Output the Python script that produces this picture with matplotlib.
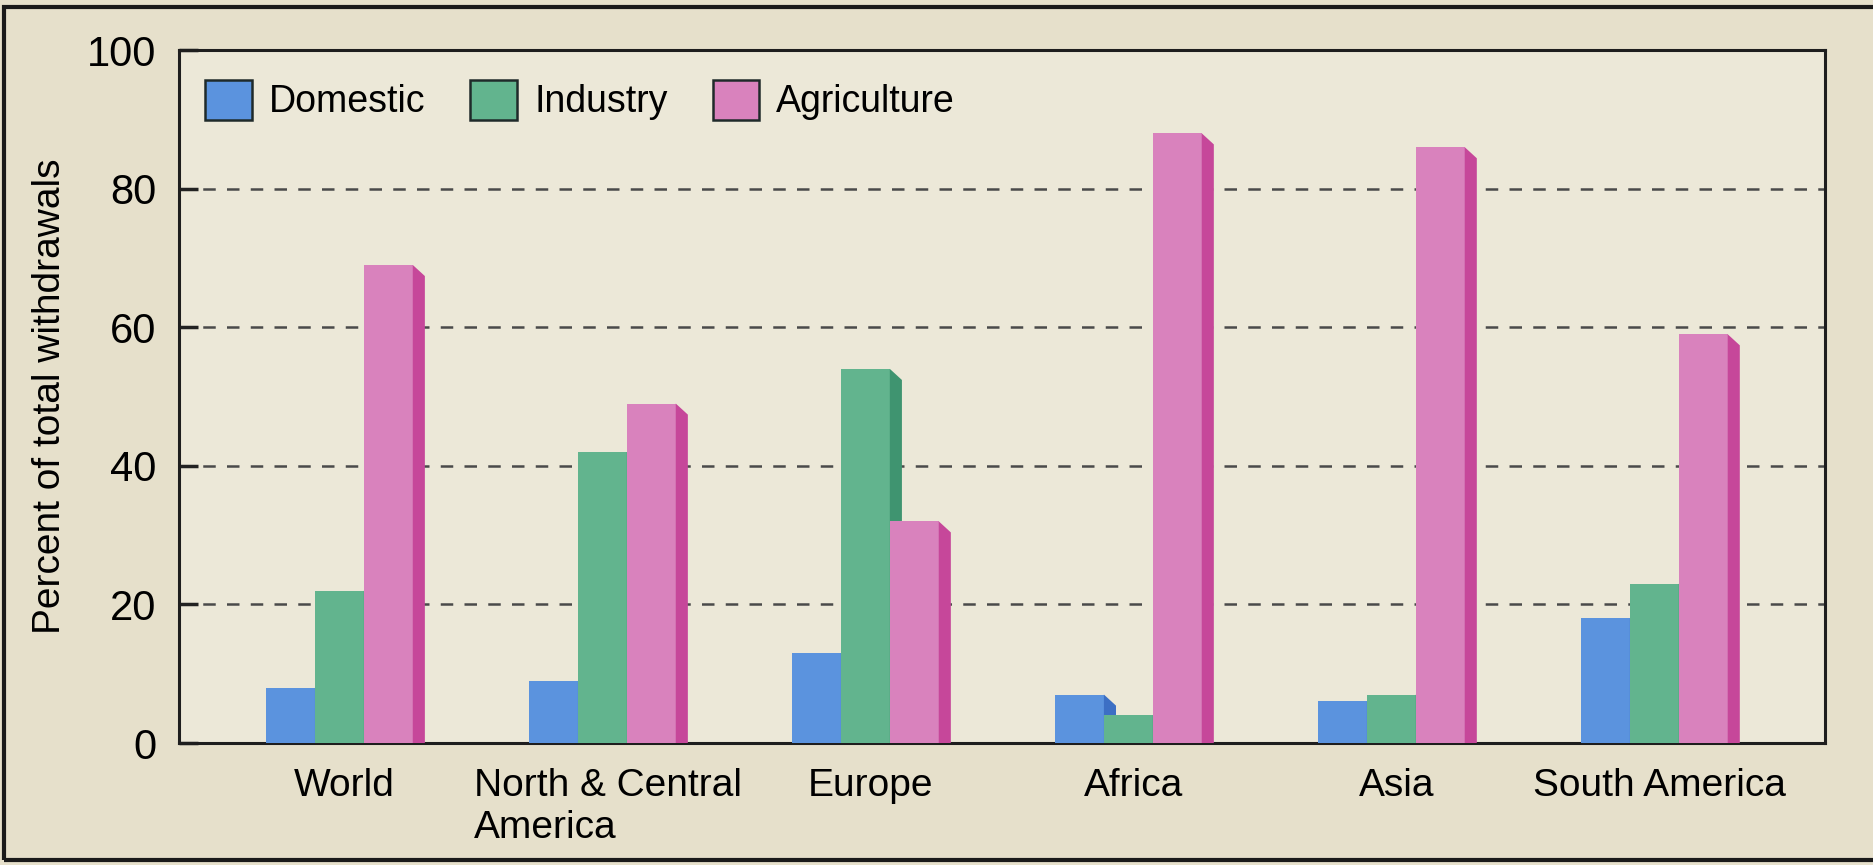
import numpy as np
import matplotlib
matplotlib.use("Agg")
import matplotlib.pyplot as plt
from matplotlib.patches import Polygon, Rectangle

plt.rcParams["font.family"] = ["Liberation Sans", "DejaVu Sans"]

# ── Data (percent of total withdrawals) ───────────────────────
regions     = ["World", "North & Central\nAmerica", "Europe", "Africa", "Asia", "South America"]
domestic    = [8, 9, 13, 7, 6, 18]
industry    = [22, 42, 54, 4, 7, 23]
agriculture = [69, 49, 32, 88, 86, 59]
series_names = ["Domestic", "Industry", "Agriculture"]
y_ticks     = [0, 20, 40, 60, 80, 100]

FRONT = ["#5b93de", "#62b48e", "#d982bd"]
SIDE  = ["#3c6fc4", "#3f9470", "#c6479a"]
BG_FIG = "#e6e0cb"
BG_AX  = "#ece8d8"
FS = 27

BAR_W  = 0.186   # front face width
DEPTH  = 0.046   # side face width (data units)
BEVEL  = 1.6     # side face drop at top (percent units)


def draw_bar(ax, xc, h, k, z):
    ax.bar(xc, h, width=BAR_W, color=FRONT[k], edgecolor="none", zorder=z)
    xr = xc + BAR_W / 2
    side = Polygon([(xr, 0), (xr + DEPTH, 0), (xr + DEPTH, max(h - BEVEL, 0)), (xr, h)],
                   closed=True, facecolor=SIDE[k], edgecolor="none", zorder=z)
    ax.add_patch(side)


fig = plt.figure(figsize=(18.74, 8.65), dpi=100)
fig.patch.set_facecolor(BG_FIG)
ax = fig.add_axes([0.0955, 0.141, 0.8785, 0.801])
ax.set_facecolor(BG_AX)

x = np.arange(len(regions))
data = [domestic, industry, agriculture]
for i, xc in enumerate(x):
    for k, vals in enumerate(data):
        draw_bar(ax, xc + (k - 1) * BAR_W, vals[i], k, 3 + k + i * 3)

# dashed grid
for yv in y_ticks[1:-1]:
    ax.axhline(yv, color="#4a4a4a", lw=1.8, ls=(0, (5, 4.5)), zorder=1)

ax.set_xlim(-0.61, 5.65)
ax.set_ylim(0, 100)
ax.set_yticks(y_ticks)
ax.set_yticklabels([str(v) for v in y_ticks], fontsize=30)
ax.tick_params(axis="y", direction="in", length=14, width=2.5, pad=16, color="#222222")
ax.set_xticks(x + 0.02)
ax.set_xticklabels(regions, fontsize=FS + 1, multialignment="left", va="top")
ax.tick_params(axis="x", length=0, pad=18)
for sp in ax.spines.values():
    sp.set_linewidth(2.2)
    sp.set_color("#1e1e1e")

ax.set_ylabel("Percent of total withdrawals", fontsize=FS + 1, labelpad=14)

handles = [Rectangle((0, 0), 1, 1, facecolor=FRONT[k], edgecolor="#1f2a2a", lw=1.8)
           for k in range(3)]
leg = ax.legend(handles, series_names, loc="upper left", ncol=3, frameon=False,
                fontsize=FS, handlelength=1.25, handleheight=1.25, handletextpad=0.45,
                columnspacing=1.2, bbox_to_anchor=(0.0, 0.995), borderaxespad=0.3)

# outer photo frame
fig.add_artist(Rectangle((0.002, 0.006), 1.2, 0.986, transform=fig.transFigure,
                         fill=False, edgecolor="#1a1a1a", lw=3))

fig.savefig("out.png", dpi=100, facecolor=fig.get_facecolor())
